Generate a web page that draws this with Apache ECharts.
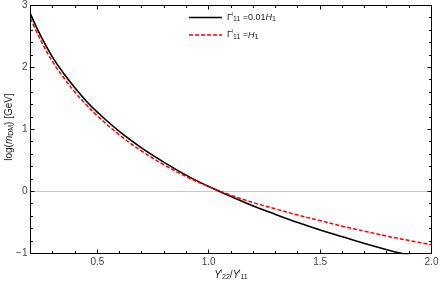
<!DOCTYPE html>
<html>
<head>
<meta charset="utf-8">
<script src="https://cdn.jsdelivr.net/npm/echarts@6/dist/echarts.min.js"></script>
<style>
html,body{margin:0;padding:0;background:#fff;}
#chart{width:440px;height:287px;}
</style>
</head>
<body>
<div id="chart"></div>
<script>
// ---- data ----
const xBlack = [0.2, 0.25, 0.3, 0.35, 0.4, 0.45, 0.5, 0.6, 0.7, 0.8, 0.9, 1.0, 1.1, 1.2, 1.3, 1.4, 1.5, 1.6, 1.7, 1.8, 1.9, 2.0];
const yBlack = [2.86, 2.48, 2.16, 1.90, 1.67, 1.46, 1.28, 0.965, 0.70, 0.47, 0.26, 0.08, -0.08, -0.235, -0.37, -0.50, -0.62, -0.73, -0.84, -0.94, -1.03, -1.12];
const xRed = [0.2, 0.25, 0.3, 0.35, 0.4, 0.45, 0.5, 0.6, 0.7, 0.8, 0.9, 1.0, 1.1, 1.2, 1.3, 1.4, 1.5, 1.6, 1.7, 1.8, 1.9, 2.0];
const yRed = [2.79, 2.41, 2.09, 1.83, 1.60, 1.40, 1.22, 0.91, 0.65, 0.43, 0.24, 0.08, -0.06, -0.18, -0.28, -0.38, -0.47, -0.56, -0.64, -0.72, -0.79, -0.86];
const zeroX = [0.2, 2.0];
const zeroY = [0, 0];
const xTickLabels = [0.5, 1.0, 1.5, 2.0];
const xMajorTicks = [0.5, 1.0, 1.5, 2.0];
const xMinorTicks = [0.3, 0.4, 0.6, 0.7, 0.8, 0.9, 1.1, 1.2, 1.3, 1.4, 1.6, 1.7, 1.8, 1.9];
const yMajorTicks = [0, 1, 2];
const yMinorTicks = [-0.8, -0.6, -0.4, -0.2, 0.2, 0.4, 0.6, 0.8, 1.2, 1.4, 1.6, 1.8, 2.2, 2.4, 2.6, 2.8];
const seriesNames = ['Γ11 =0.01H1', 'Γ11 =H1'];

const pairs = (xs, ys) => xs.map((x, i) => [x, ys[i]]);

const fontFamily = 'Liberation Sans';

const smallRich = {
  sup: {fontSize: 5, verticalAlign: 'top', fill: '#222', fontFamily: fontFamily, padding: [0, 0, 5, 0]},
  sub: {fontSize: 7, verticalAlign: 'bottom', fill: '#222', fontFamily: fontFamily, padding: [4, 0, 0, 0]},
  it: {fontSize: 9, fontStyle: 'italic', fill: '#222', fontFamily: fontFamily}
};
const nameRich = {
  sup: {fontSize: 5, verticalAlign: 'top', fill: '#222', fontFamily: fontFamily, padding: [0, 0, 6, 0]},
  sub: {fontSize: 7, verticalAlign: 'bottom', fill: '#222', fontFamily: fontFamily, padding: [4, 0, 0, 0]},
  it: {fontSize: 10, fontStyle: 'italic', fill: '#222', fontFamily: fontFamily}
};

const chart = echarts.init(document.getElementById('chart'), null, {renderer: 'canvas'});
chart.setOption({
  animation: false,
  grid: {left: 30.5, right: 8.5, top: 5.5, bottom: 33.5, outerBoundsMode: 'none'},
  xAxis: [
    {
      type: 'value', min: 0.2, max: 2.0, position: 'bottom',
      axisLine: {show: true, onZero: false, lineStyle: {color: '#000', width: 1}},
      axisTick: {show: false},
      axisLabel: {show: true, customValues: xTickLabels, color: '#444', fontSize: 10, margin: 4,
        fontFamily: fontFamily, formatter: v => v.toFixed(1)},
      splitLine: {show: false}
    },
    {
      type: 'value', min: 0.2, max: 2.0, position: 'top',
      axisLine: {show: true, onZero: false, lineStyle: {color: '#000', width: 1}},
      axisTick: {show: false}, axisLabel: {show: false}, splitLine: {show: false}
    }
  ],
  yAxis: [
    {
      type: 'value', min: -1, max: 3, interval: 1, position: 'left',
      axisLine: {show: true, onZero: false, lineStyle: {color: '#000', width: 1}},
      axisTick: {show: false},
      axisLabel: {show: true, color: '#444', fontSize: 10, margin: 3, fontFamily: fontFamily,
        formatter: v => (v < 0 ? '\u2212' + Math.abs(v) : String(v))},
      splitLine: {show: false}
    },
    {
      type: 'value', min: -1, max: 3, interval: 1, position: 'right',
      axisLine: {show: true, onZero: false, lineStyle: {color: '#000', width: 1}},
      axisTick: {show: false}, axisLabel: {show: false}, splitLine: {show: false}
    }
  ],
  series: [
    {
      type: 'line', name: 'zero', data: pairs(zeroX, zeroY), silent: true, z: 1,
      showSymbol: false, symbol: 'none',
      lineStyle: {color: 'rgb(200,200,200)', width: 1}, itemStyle: {color: 'rgb(200,200,200)'}
    },
    {
      type: 'line', name: seriesNames[0], data: pairs(xBlack, yBlack), z: 3,
      smooth: 0.4, showSymbol: false, symbol: 'none',
      lineStyle: {color: '#000', width: 1.6}, itemStyle: {color: '#000'}
    },
    {
      type: 'line', name: seriesNames[1], data: pairs(xRed, yRed), z: 4,
      smooth: 0.4, showSymbol: false, symbol: 'none',
      lineStyle: {color: '#ff0000', width: 1.5, type: [4, 2]}, itemStyle: {color: '#ff0000'}
    }
  ]
});

// Frame ticks, titles and legend as graphic elements, positioned through the chart's own scales.
const px = (x, y) => chart.convertToPixel({gridIndex: 0}, [x, y]);
const snap = v => Math.round(v - 0.5) + 0.5;
const [L, B] = px(0.2, -1);
const [R, T] = px(2.0, 3);
const g = [];
const seg = (x1, y1, x2, y2) => g.push({type: 'line', z: 10, silent: true,
  shape: {x1: x1, y1: y1, x2: x2, y2: y2}, style: {stroke: '#000', lineWidth: 1}});
seg(L, T, R, T); seg(R, T, R, B); seg(R, B, L, B); seg(L, B, L, T);
const xTicks = (vals, len) => vals.forEach(v => {
  const X = snap(px(v, 0)[0]);
  seg(X, B, X, B - len); seg(X, T, X, T + len);
});
const yTicks = (vals, len) => vals.forEach(v => {
  const Y = snap(px(0.2, v)[1]);
  seg(L, Y, L + len, Y); seg(R, Y, R - len, Y);
});
xTicks(xMajorTicks, 4); xTicks(xMinorTicks, 2.5);
yTicks(yMajorTicks, 4); yTicks(yMinorTicks, 2.5);

// axis titles
g.push({type: 'text', z: 10, silent: true, x: (L + R) / 2, y: 275,
  style: {text: '{it|Y}{sup|l}{sub|22}/{it|Y}{sup|l}{sub|11}', fontSize: 10, fill: '#222',
    fontFamily: fontFamily, rich: nameRich, align: 'center', verticalAlign: 'middle',
    textAlign: 'center', textVerticalAlign: 'middle'}});
g.push({type: 'text', z: 10, silent: true, x: 9, y: 127, rotation: Math.PI / 2,
  style: {text: 'log({it|m}{sub|DM}) [GeV]', fontSize: 10, fill: '#222',
    fontFamily: fontFamily, rich: nameRich, align: 'center', verticalAlign: 'middle',
    textAlign: 'center', textVerticalAlign: 'middle'}});

// legend
g.push({type: 'line', z: 10, silent: true, shape: {x1: 189, y1: 17.5, x2: 222, y2: 17.5},
  style: {stroke: '#000', lineWidth: 1.6}});
g.push({type: 'text', z: 10, silent: true, x: 227, y: 17.5,
  style: {text: 'Γ{sup|l}{sub|11} =0.01{it|H}{sub|1}', fontSize: 9, fill: '#222', fontFamily: fontFamily,
    rich: smallRich, verticalAlign: 'middle', textVerticalAlign: 'middle'}});
g.push({type: 'line', z: 10, silent: true, shape: {x1: 189, y1: 35, x2: 222, y2: 35},
  style: {stroke: '#ff0000', lineWidth: 1.5, lineDash: [4, 2]}});
g.push({type: 'text', z: 10, silent: true, x: 227, y: 35,
  style: {text: 'Γ{sup|l}{sub|11} ={it|H}{sub|1}', fontSize: 9, fill: '#222', fontFamily: fontFamily,
    rich: smallRich, verticalAlign: 'middle', textVerticalAlign: 'middle'}});

chart.setOption({graphic: g});
</script>
</body>
</html>
